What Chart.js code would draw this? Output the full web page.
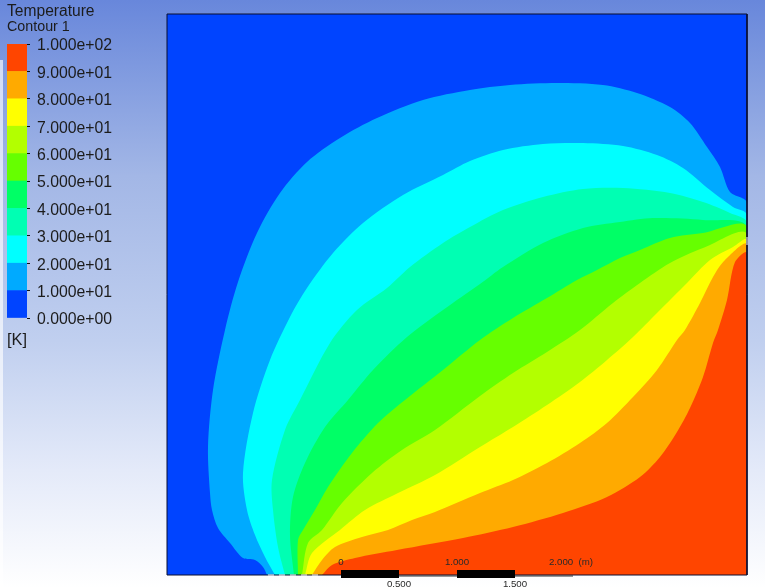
<!DOCTYPE html>
<html>
<head>
<meta charset="utf-8">
<title>Temperature contour</title>
<script src="https://cdn.jsdelivr.net/npm/chart.js@4"></script>
<style>
  html, body { margin: 0; padding: 0; }
  body {
    width: 765px; height: 588px; overflow: hidden; position: relative;
    font-family: "Liberation Sans", Arial, sans-serif;
    background: linear-gradient(to bottom, #6887db 0%, #a3b7e6 30%, #c0cfef 58%, #e4eaf9 80%, #ffffff 100%);
  }
  canvas { position: absolute; left: 0; top: 0; }
  .txt { position: absolute; left: 7px; color: #1c1c1c; white-space: nowrap; line-height: 1; }
  #strip { position: absolute; left: 0; top: 60px; width: 3px; height: 528px; background: rgba(255,255,255,.65); }
</style>
</head>
<body>
<div id="strip"></div>
<canvas id="contourChart" width="765" height="588"></canvas>
<canvas id="legendChart" width="125" height="335"></canvas>
<div class="txt" style="top:3px;font-size:15.6px">Temperature</div>
<div class="txt" style="top:19px;font-size:14.3px">Contour 1</div>
<div class="txt" style="top:331px;font-size:16.4px">[K]</div>
<script>
// colour bar
const legendLevels = [0, 10, 20, 30, 40, 50, 60, 70, 80, 90, 100];
const bandColors = ['#0044ff', '#00aaff', '#00ffff', '#00ffb3', '#00ff66', '#66ff00', '#b3ff00', '#ffff00', '#ffaa00', '#ff4500'];
const bandSize = [10, 10, 10, 10, 10, 10, 10, 10, 10, 10];
const legendLabels = ['0.000e+00', '1.000e+01', '2.000e+01', '3.000e+01', '4.000e+01', '5.000e+01', '6.000e+01', '7.000e+01', '8.000e+01', '9.000e+01', '1.000e+02'];

// isotherms. units: 116 = 1 m, origin at lower left of the domain
const domainX = [0, 580];
const domainY = [0, 561];
const domain = [[0, 0], [0, 561], [580, 561], [580, 0]];
const t10 = [[100,0],[96,8],[88,15],[76,17],[63,32],[51,47],[45,65],[43,82],[41,128],[46,185],[58,245],[71,293],[90,342],[113,382],[140,413],[173,437],[210,457],[256,475],[303,485],[343,490],[390,492],[436,490],[470,482],[503,468],[523,452],[540,428],[553,408],[563,383],[580,372],[580,0]];
const t20 = [[108,0],[98,18],[88,40],[80,65],[76,102],[86,162],[103,215],[123,258],[140,287],[166,322],[196,352],[236,380],[276,400],[303,414],[336,425],[376,431],[416,432],[456,429],[490,420],[516,407],[543,385],[566,368],[580,360],[580,0]];
const t30 = [[118,0],[111,28],[106,65],[105,95],[118,145],[133,175],[163,232],[190,265],[220,287],[243,308],[276,332],[303,348],[336,365],[376,378],[416,386],[456,387],[503,382],[536,373],[563,362],[580,352],[580,0]];
const t40 = [[127,0],[123,40],[126,78],[138,112],[158,148],[181,175],[206,205],[240,238],[276,265],[313,291],[336,308],[376,332],[416,347],[453,353],[486,357],[536,355],[580,347],[580,0]];
const t50 = [[131,0],[131,35],[136,45],[148,65],[161,88],[185,122],[211,152],[238,175],[276,205],[313,235],[346,257],[380,277],[410,295],[430,305],[453,317],[473,325],[503,337],[536,342],[580,347],[580,0]];
const t60 = [[135,0],[141,32],[155,45],[175,72],[205,102],[235,125],[268,145],[313,179],[346,202],[380,223],[413,245],[446,272],[473,292],[503,312],[536,327],[580,340],[580,0]];
const t70 = [[138,0],[145,22],[173,45],[198,65],[231,82],[268,100],[313,128],[346,148],[380,170],[413,193],[440,215],[466,238],[490,262],[520,292],[543,315],[566,328],[580,335],[580,0]];
const t80 = [[145,0],[155,15],[168,28],[195,38],[221,45],[245,55],[268,63],[313,82],[346,95],[380,112],[413,132],[440,152],[466,178],[490,205],[510,235],[518,245],[533,272],[546,298],[558,315],[580,330],[580,0]];
const t90 = [[155,0],[165,10],[188,17],[230,25],[296,37],[346,48],[396,62],[440,78],[473,98],[493,118],[510,143],[523,167],[536,198],[546,232],[551,245],[560,275],[568,313],[580,322],[580,0]];

// length scale under the domain
const scaleOrigin = 174;
const unitsPerMetre = 116;
const scaleMetres = [0, 0.5, 1, 1.5, 2];
const scaleLabels = ['0', '0.500', '1.000', '1.500', '2.000  (m)'];

const isotherms = [domain, t10, t20, t30, t40, t50, t60, t70, t80, t90];

// pale gaps in the frame where the isotherms reach the boundary
const bottomGap = [[101, 0], [155, 0]];
const rightGap = [[580, 330], [580, 338]];

function toPoints(list) {
  return list.map(p => ({ x: p[0], y: p[1] }));
}

function scaleSegment(i) {
  return [
    { x: scaleOrigin + scaleMetres[i] * unitsPerMetre, y: 1 },
    { x: scaleOrigin + scaleMetres[i + 1] * unitsPerMetre, y: 1 }
  ];
}

const datasets = [];

// scale bar, black pieces on top of the thin rest
[0, 2].forEach(i => {
  datasets.push({ data: scaleSegment(i), showLine: true, tension: 0, borderColor: '#000', borderWidth: 8, borderCapStyle: 'butt', pointRadius: 0, clip: false, fill: false });
});
datasets.push({
  data: [scaleSegment(0)[0], scaleSegment(3)[1]].map(p => ({ x: p.x, y: p.y - 2 })),
  showLine: true, tension: 0, borderColor: '#333', borderWidth: 1, pointRadius: 0, clip: false, fill: false
});

datasets.push({ data: toPoints(bottomGap), showLine: true, tension: 0, borderColor: '#fff', borderWidth: 1, borderDash: [6, 5], pointRadius: 0, clip: false, fill: false });
datasets.push({ data: toPoints(rightGap), showLine: true, tension: 0, borderColor: '#fff', borderWidth: 1, pointRadius: 0, clip: false, fill: false });

// frame round the domain
datasets.push({
  data: toPoints(domain.concat([domain[0]])),
  showLine: true, tension: 0, borderColor: '#0a0f30', borderWidth: 1, pointRadius: 0, clip: false, fill: false
});

// highest band first, Chart.js paints the first dataset last
for (let i = isotherms.length - 1; i >= 0; i--) {
  datasets.push({
    data: toPoints(isotherms[i]),
    showLine: true,
    tension: i === 0 ? 0 : 0.3,
    borderWidth: 0,
    borderColor: bandColors[i],
    backgroundColor: bandColors[i],
    pointRadius: 0,
    fill: 'shape'
  });
}

const scaleTextPlugin = {
  id: 'scaleText',
  afterDraw(chart) {
    const ctx = chart.ctx;
    const xs = chart.scales.x;
    ctx.save();
    ctx.font = '9.7px "Liberation Sans", Arial, sans-serif';
    ctx.fillStyle = '#2a2a2a';
    ctx.textAlign = 'center';
    ctx.textBaseline = 'middle';
    scaleMetres.forEach((m, i) => {
      let px = xs.getPixelForValue(scaleOrigin + m * unitsPerMetre);
      if (i === 4) px -= 2;
      ctx.fillText(scaleLabels[i], px, i % 2 ? 584 : 562);
    });
    ctx.restore();
  }
};

new Chart(document.getElementById('contourChart'), {
  type: 'scatter',
  data: { datasets: datasets },
  options: {
    responsive: false,
    animation: false,
    layout: { padding: { left: 167, top: 14, right: 18, bottom: 13 } },
    plugins: { legend: { display: false }, tooltip: { enabled: false } },
    scales: {
      x: { type: 'linear', display: false, min: domainX[0], max: domainX[1] },
      y: { type: 'linear', display: false, min: domainY[0], max: domainY[1] }
    }
  },
  plugins: [scaleTextPlugin]
});

new Chart(document.getElementById('legendChart'), {
  type: 'bar',
  data: {
    labels: ['T'],
    datasets: bandSize.map((v, i) => ({
      data: [v],
      backgroundColor: bandColors[i],
      barPercentage: 1,
      categoryPercentage: 1,
      borderWidth: 0
    }))
  },
  options: {
    responsive: false,
    animation: false,
    layout: { padding: { left: 7, top: 44, right: 0, bottom: 17 } },
    plugins: { legend: { display: false }, tooltip: { enabled: false } },
    scales: {
      x: { stacked: true, display: false },
      y: {
        stacked: true,
        position: 'right',
        min: 0,
        max: 100,
        afterBuildTicks(scale) { scale.ticks = legendLevels.map(v => ({ value: v })); },
        afterFit(scale) { scale.width = 98; },
        grid: { drawOnChartArea: false, drawTicks: true, tickLength: 3, color: '#111' },
        border: { color: '#111', display: false },
        ticks: {
          padding: 7,
          labelOffset: 2,
          color: '#1c1c1c',
          font: { family: '"Liberation Sans", Arial, sans-serif', size: 15.8 },
          callback: (v) => legendLabels[legendLevels.indexOf(v)]
        }
      }
    }
  }
});
</script>
</body>
</html>
